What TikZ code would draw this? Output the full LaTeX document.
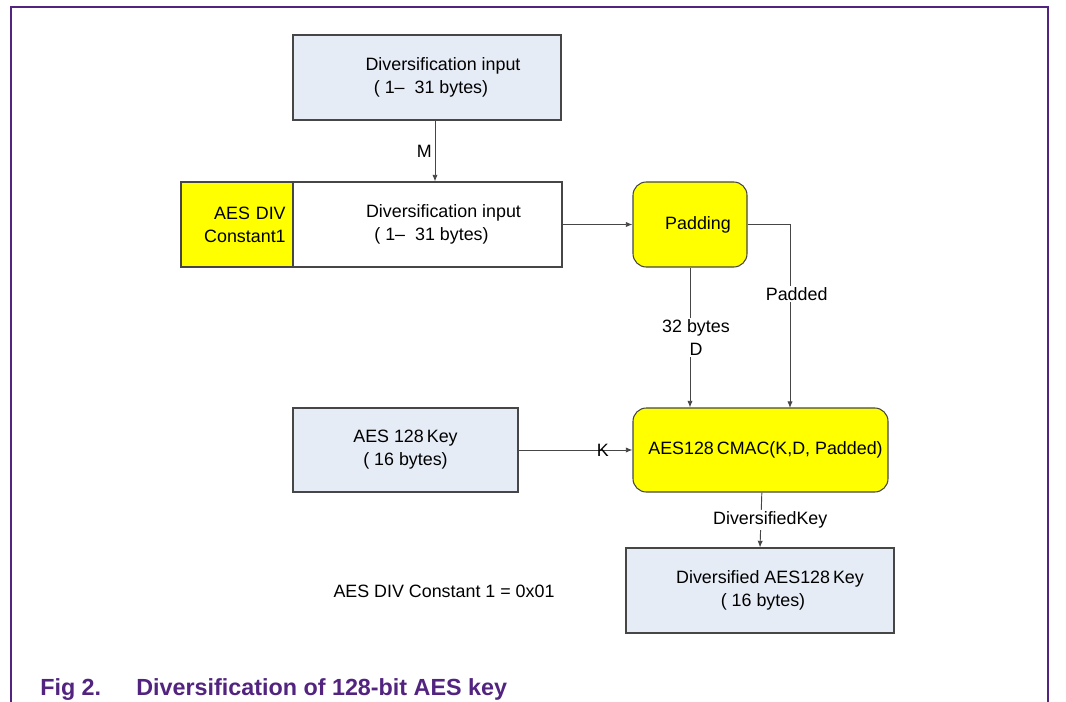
\documentclass[tikz,border=0pt]{standalone}
\usepackage{fontspec}
\setmainfont{Liberation Sans}
\usetikzlibrary{positioning,arrows.meta}
\definecolor{mylblue}{RGB}{230,236,246}
\definecolor{myyellow}{RGB}{255,255,0}
\definecolor{mypurple}{RGB}{82,36,128}
\definecolor{mygray}{RGB}{70,70,70}

\begin{document}
\begin{tikzpicture}[x=0.75pt,y=-0.75pt,
boxb/.style={
  draw=mygray,
  line width=0.8pt,
  fill=mylblue,
  minimum width=201pt,
  minimum height=63.75pt,
  align=center,
  font=\fontsize{13.4}{17.2}\selectfont},
whiteb/.style={boxb,fill=white},
yellowb/.style={boxb,fill=myyellow},
roundb/.style={yellowb,rounded corners=10pt},
conn/.style={draw=mygray,line width=0.7pt},
arr/.style={conn,-{Latex[length=5pt,width=4pt]}},
lab/.style={fill=white,inner sep=1pt,align=center,
  font=\fontsize{13.4}{17.2}\selectfont},
capt/.style={anchor=base west,inner xsep=0pt,text=mypurple,
  font=\fontsize{17.5}{20}\selectfont\bfseries},
]
\useasboundingbox (0,0) rectangle (1066,702);
% frame
\draw[mypurple,line width=1.2pt] (11,702) -- (11,7) -- (1048,7) -- (1048,702);

\node[boxb] (DIn) at (427,77.5) {\hspace*{24pt}Diversification input\\\hspace*{6pt}( 1--\ \ 31 bytes)};
\node[whiteb,minimum width=201.75pt] (DIn2) at (427.5,224.5) {\hspace*{24pt}Diversification input\\\hspace*{6pt}( 1--\ \ 31 bytes)};
\node[yellowb,minimum width=84pt,text width=73pt,align=right] (Con) at (237,224.5) {AES DIV\\Constant1};
\node[roundb,minimum width=85.5pt] (Pad) at (690,224.5) {\hspace*{12pt}Padding};
\node[roundb,minimum width=191.25pt,minimum height=63pt] (CMAC) at (760.5,450) {\hspace*{7.5pt}AES128\,CMAC(K,D, Padded)};
\node[boxb,minimum width=168.75pt,minimum height=63pt] (Key) at (405.5,450) {AES 128\,Key\\( 16 bytes)};
\node[boxb] (DKey) at (760,590.5) {\hspace*{15pt}Diversified AES128\,Key\\\hspace*{4.5pt}( 16 bytes)};
\node[font=\fontsize{13.4}{17.2}\selectfont] (Note) at (444,591) {AES DIV Constant 1 = 0x01};
\coordinate (PadIn) at (790,408);

\draw[arr] ([xshift=6pt]DIn.south) -- node[left,font=\fontsize{13.4}{17.2}\selectfont,inner sep=2pt] {M} ([xshift=6pt]DIn.south |- DIn2.north);
\draw[arr] (DIn2.east) -- (Pad.west);
\draw[arr] (Pad.south) -- node[lab,xshift=4.5pt] {32 bytes\\D} (Pad.south |- CMAC.north);
\draw[arr] (Pad.east) -| node[lab,pos=0.69,xshift=5pt] {Padded} (PadIn);
\draw[arr] (Key.east) -- node[lab,pos=0.74,fill=none] {K} (CMAC.west);
\draw[arr] ([xshift=1pt]CMAC.south) -- node[lab,xshift=7pt] {DiversifiedKey} (DKey.north);

% caption
\node[capt] (FigNo) at (40,695) {Fig 2.};
\node[capt] (FigTitle) at (136,695) {Diversification of 128-bit AES key};
\end{tikzpicture}
\end{document}
